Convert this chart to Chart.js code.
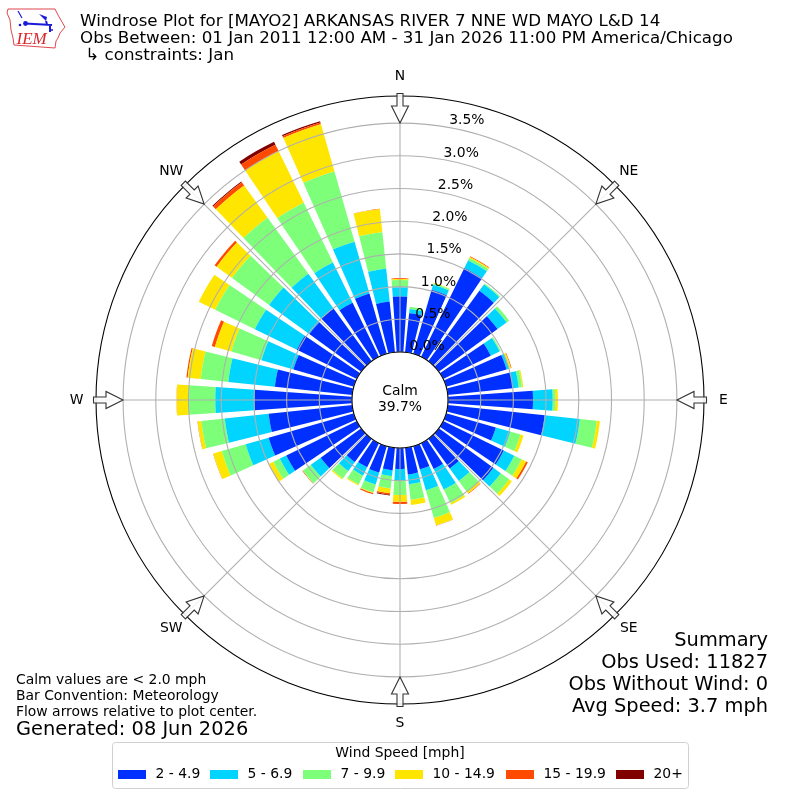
<!DOCTYPE html>
<html><head><meta charset="utf-8">
<style>html,body{margin:0;padding:0;background:#fff}canvas{display:block}</style>
<script src="https://cdn.jsdelivr.net/npm/chart.js@4"></script>
</head><body><canvas id="c" width="800" height="800"></canvas>
<script>
const directions = [0,10,20,30,40,50,60,70,80,90,100,110,120,130,140,150,160,170,180,190,200,210,220,230,240,250,260,270,280,290,300,310,320,330,340,350];
const speedLabels = ['2 - 4.9','5 - 6.9','7 - 9.9','10 - 14.9','15 - 19.9','20+'];
const speedColors = ['#0030ff','#00d4ff','#7dff7a','#ffe600','#ff4a00','#800000'];
const speed2to5   = [.85,.60,1.02,1.51,1.33,1.11,.81,.96,1.0,1.30,1.49,.79,1.03,1.03,.56,.44,.37,.41,.32,.345,.42,.41,.44,.765,1.20,1.355,1.285,1.49,1.19,.96,1.02,.98,.995,.92,.96,.78];
const speed5to7   = [.14,.065,.08,.13,.12,.17,.15,.04,.09,.30,.54,.23,.18,.14,.235,.35,.33,.15,.185,.09,.19,.14,.17,.185,.11,.365,.675,.60,.715,.51,.715,.76,.655,.685,.825,.505];
const speed7to10  = [.11,.035,.02,.04,.02,.05,.02,.01,.05,.04,.26,.16,.125,.16,.205,.23,.44,.24,.215,.19,.125,.15,.14,.15,.11,.38,.36,.41,.425,.48,.675,.70,1.06,1.015,1.115,.56];
const speed10to15 = [.015,0,.01,.02,0,0,0,.02,.02,.04,.05,.05,.075,.05,.03,.03,.12,.08,.10,.075,.01,.02,.02,.002,.075,.135,.055,.18,.20,.26,.28,.29,.61,.88,.75,.355];
const speed15to20 = [.015,0,0,.01,0,0,0,.01,0,0,0,0,.03,0,.01,0,.005,0,.035,.02,.02,0,0,.008,0,.005,.005,.003,.02,.05,0,.04,.06,.11,.03,.005];
const speed20plus = [0,0,0,0,0,0,0,0,0,0,0,0,0,0,0,0,0,0,0,.015,0,0,0,0,0,0,0,0,0,0,0,0,.015,.05,.02,0];
const bands = [speed2to5,speed5to7,speed7to10,speed10to15,speed15to20,speed20plus];
const compass = [['N',0],['NE',45],['E',90],['SE',135],['S',180],['SW',225],['W',270],['NW',315]];
const titleLines = ['Windrose Plot for [MAYO2] ARKANSAS RIVER 7 NNE WD MAYO L&D 14','Obs Between: 01 Jan 2011 12:00 AM - 31 Jan 2026 11:00 PM America/Chicago',' \u21B3 constraints: Jan'];
const summaryLines = ['Summary','Obs Used: 11827','Obs Without Wind: 0','Avg Speed: 3.7 mph'];
const noteLines = ['Calm values are < 2.0 mph','Bar Convention: Meteorology','Flow arrows relative to plot center.'];
const generatedText = 'Generated: 08 Jun 2026';
const calmText = ['Calm','39.7%'];
const legendTitle = 'Wind Speed [mph]';
const rMin = -0.734, rMax = 3.914, barDeg = 8, stepDeg = 10;

const slotLabels = []; directions.forEach(d => { slotLabels.push(String(d)); slotLabels.push(''); });
const running = directions.map(() => 0);
const datasets = bands.map((vals, b) => {
  const data = [];
  vals.forEach((v, i) => { running[i] += v; data.push(running[i]); data.push(rMin); });
  return { label: speedLabels[b], data, backgroundColor: speedColors[b], borderWidth: 0,
           angle: ctx => ctx.dataIndex % 2 ? stepDeg - barDeg : barDeg };
});
const F = 'DejaVu Sans';
function text(ctx, s, x, y, size, align, base) {
  ctx.font = size + 'px "' + F + '"'; ctx.fillStyle = '#000';
  ctx.textAlign = align || 'left'; ctx.textBaseline = base || 'middle'; ctx.fillText(s, x, y);
}
function drawLogo(ctx) {
  ctx.save();
  ctx.strokeStyle = '#e0474c'; ctx.lineWidth = 1; ctx.fillStyle = '#fff';
  ctx.beginPath();
  [[8,9],[55,9],[58,15],[62,22],[65,27],[60,33],[58,38],[56,41],[55,48],[14,45],[13,38],[11,30],[10,20],[7,13]].forEach((p,i)=> i?ctx.lineTo(p[0],p[1]):ctx.moveTo(p[0],p[1]));
  ctx.closePath(); ctx.stroke();
  ctx.strokeStyle = '#1a1ad8'; ctx.fillStyle = '#1a1ad8'; ctx.lineWidth = 2;
  ctx.beginPath(); ctx.moveTo(25,23.5); ctx.lineTo(52,25); ctx.moveTo(47,24); ctx.lineTo(46,21); ctx.moveTo(50,25); ctx.lineTo(50,32); ctx.stroke();
  ctx.lineWidth = 1.2;
  ctx.beginPath(); ctx.moveTo(18,11); ctx.lineTo(22,18); ctx.stroke();
  ctx.beginPath(); ctx.moveTo(39,14); ctx.lineTo(47,17); ctx.lineTo(46,21); ctx.closePath(); ctx.fill();
  ctx.beginPath(); ctx.arc(25.5,23.5,2.4,0,7); ctx.fill();
  ctx.beginPath(); ctx.arc(20,25,1.3,0,7); ctx.fill();
  ctx.beginPath(); ctx.arc(52,30,1,0,7); ctx.fill();
  ctx.fillStyle = '#d8262c'; ctx.font = 'italic 17px "Liberation Serif"'; ctx.textAlign = 'left'; ctx.textBaseline = 'alphabetic';
  ctx.fillText('IEM', 16.5, 44);
  ctx.restore();
}
const decor = {
  id: 'decor',
  afterDatasetsUpdate(chart) {
    const r = chart.scales.r;
    datasets.forEach((ds, b) => {
      const els = chart.getDatasetMeta(b).data;
      els.forEach((el, i) => {
        if (i % 2) return;
        const prev = b ? datasets[b-1].data[i] : 0;
        el.innerRadius = r.getDistanceFromCenterForValue(prev);
      });
    });
  },
  afterDraw(chart) {
    const ctx = chart.ctx, r = chart.scales.r, cx = r.xCenter, cy = r.yCenter;
    const R = r.getDistanceFromCenterForValue(rMax), hole = r.getDistanceFromCenterForValue(0);
    const pt = (deg, d) => { const a = deg*Math.PI/180; return [cx + Math.sin(a)*d, cy - Math.cos(a)*d]; };
    ctx.save();
    ctx.strokeStyle = '#b0b0b0'; ctx.lineWidth = 1.1;
    compass.forEach(c => { const p = pt(c[1], hole), q = pt(c[1], R);
      ctx.beginPath(); ctx.moveTo(p[0],p[1]); ctx.lineTo(q[0],q[1]); ctx.stroke(); });
    ctx.fillStyle = '#fff'; ctx.strokeStyle = '#000'; ctx.lineWidth = 1.1;
    ctx.beginPath(); ctx.arc(cx, cy, hole, 0, Math.PI*2); ctx.fill(); ctx.stroke();
    text(ctx, calmText[0], cx, 391.5, 13.9, 'center');
    text(ctx, calmText[1], cx, 407.5, 13.9, 'center');
    r.ticks.forEach(t => { if (t.value < 0 || t.value >= rMax) return;
      const p = pt(10, r.getDistanceFromCenterForValue(t.value) + 6.5);
      text(ctx, t.value.toFixed(1) + '%', p[0], p[1], 13.9, 'left'); });
    compass.forEach(c => {
      ctx.save(); ctx.translate(cx, cy); ctx.rotate(c[1]*Math.PI/180);
      const top = -R - 2.5, tip = -R + 27, base = -R + 10;
      ctx.beginPath(); ctx.moveTo(-3,top); ctx.lineTo(3,top); ctx.lineTo(3,base); ctx.lineTo(8.5,base);
      ctx.lineTo(0,tip); ctx.lineTo(-8.5,base); ctx.lineTo(-3,base); ctx.closePath();
      ctx.fillStyle = 'rgba(255,255,255,0.85)'; ctx.fill(); ctx.strokeStyle = '#333'; ctx.lineWidth = 1.1; ctx.stroke();
      ctx.restore();
      const l = pt(c[1], R + 19.5);
      text(ctx, c[0], l[0], l[1], 13.9, 'center');
    });
    [21.5, 38.5, 56].forEach((y,i) => text(ctx, titleLines[i], 80, y, 16.7));
    summaryLines.forEach((s,i) => text(ctx, s, 768, 640.5 + i*22, 19.4, 'right'));
    noteLines.forEach((s,i) => text(ctx, s, 16, 680.5 + i*16, 13.9));
    text(ctx, generatedText, 16, 730, 19.4);
    ctx.strokeStyle = '#d0d0d0'; ctx.lineWidth = 1; ctx.fillStyle = '#fff';
    ctx.beginPath(); ctx.roundRect(112.5, 742.5, 576, 46, 3); ctx.fill(); ctx.stroke();
    text(ctx, legendTitle, 400, 753.5, 13.9, 'center');
    const sw = [118,210,303,395,506,616];
    speedLabels.forEach((s,i) => {
      ctx.fillStyle = speedColors[i]; ctx.fillRect(sw[i], 770, 28, 9);
      text(ctx, s, sw[i] + 37.5, 774.5, 13.9);
    });
    drawLogo(ctx);
    ctx.restore();
  }
};
new Chart(document.getElementById('c'), {
  type: 'polarArea',
  data: { labels: slotLabels, datasets },
  options: {
    responsive: false, animation: false, devicePixelRatio: 1,
    layout: { padding: 96 },
    plugins: { legend: { display: false }, tooltip: { enabled: false }, title: { display: false } },
    scales: { r: {
      min: rMin, max: rMax, startAngle: -barDeg/2,
      ticks: { display: false, stepSize: 0.5 },
      pointLabels: { display: false },
      angleLines: { display: false },
      grid: { circular: true, z: 1, lineWidth: 1.1, color: c => c.tick && c.tick.value >= rMax ? '#000000' : '#b0b0b0' }
    } }
  },
  plugins: [decor]
});
</script></body></html>
